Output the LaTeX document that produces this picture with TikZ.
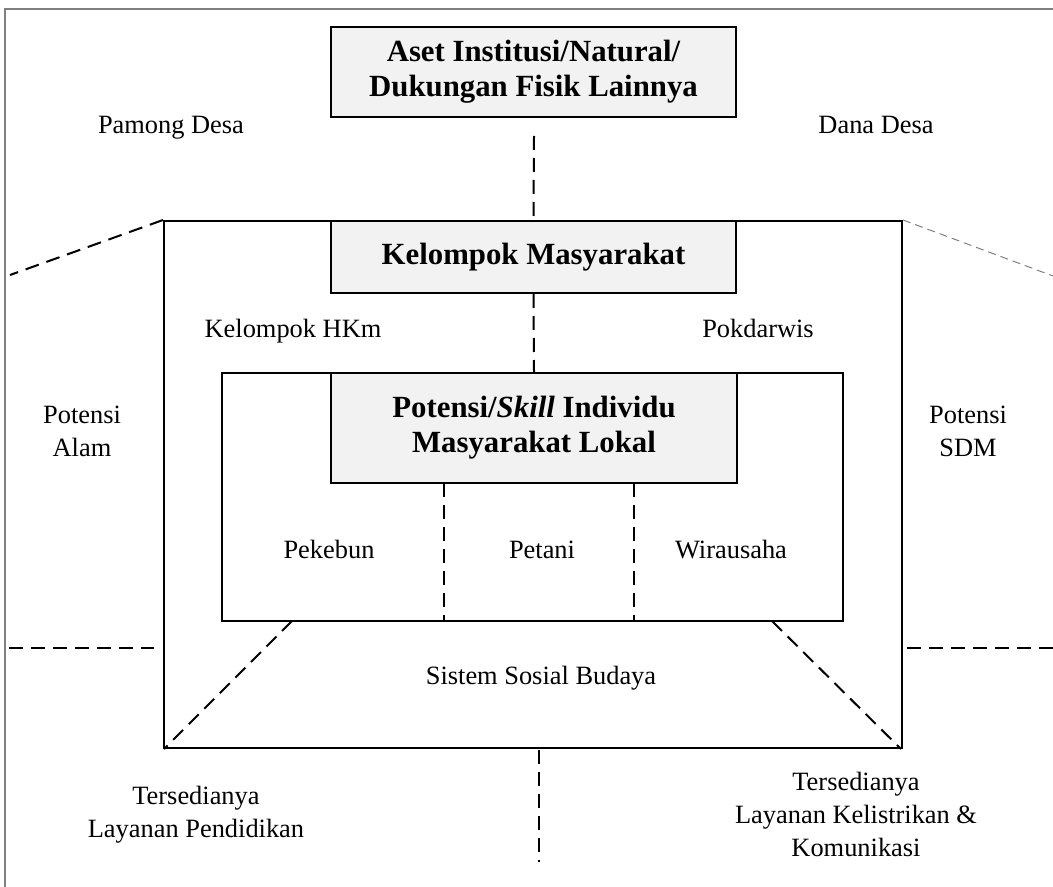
\documentclass[tikz,border=0pt]{standalone}
\usepackage{fontspec}
\setmainfont{Liberation Serif}
\definecolor{boxgray}{HTML}{F2F2F2}
\definecolor{framegray}{HTML}{808080}
\begin{document}
\begin{tikzpicture}[x=0.5pt,y=-0.5pt,
  solidbox/.style={draw=black,line width=1pt,inner sep=0pt,align=center},
  titlebox/.style={solidbox,fill=boxgray,font=\fontsize{15.4}{17.5}\selectfont\bfseries},
  multilbl/.style={inner sep=0pt,align=center,font=\fontsize{13.2}{16.5}\selectfont},
  lbl/.style={multilbl,text height=9.2pt,text depth=2.8pt},
  dashline/.style={line width=1pt,dash pattern=on 7pt off 4pt},
  thindash/.style={line width=0.5pt,draw=framegray,dash pattern=on 4pt off 2.5pt}]
\useasboundingbox (0,0) rectangle (1053,887);
\fill[white] (0,0) rectangle (1053,887);
% frame
\draw[framegray,line width=0.6pt] (5,887) -- (5,9) -- (1053,9);
% boxes
\node[solidbox,minimum width=369pt,minimum height=263.5pt] (outer) at (533,484.5) {};
\node[solidbox,minimum width=310.5pt,minimum height=124pt] (inner) at (532.5,497) {};
\node[titlebox,minimum width=202.5pt,minimum height=45pt] (aset) at (533.5,72) {Aset Institusi/Natural/\\Dukungan Fisik Lainnya};
\node[titlebox,minimum width=202.5pt,minimum height=36pt] (kel) at (533.5,257) {Kelompok Masyarakat};
\node[titlebox,minimum width=203pt,minimum height=55pt] (pot) at (534,428) {Potensi/\textit{Skill} Individu\\Masyarakat Lokal};
% labels
\node[lbl] (pamong) at (171,127) {Pamong Desa};
\node[lbl] (dana) at (876,127) {Dana Desa};
\node[lbl] (hkm) at (293,331) {Kelompok HKm};
\node[lbl] (pokd) at (758,331) {Pokdarwis};
\node[multilbl] (alam) at (82,431) {Potensi\\Alam};
\node[multilbl] (sdm) at (968,431) {Potensi\\SDM};
\node[lbl] (pekebun) at (329,552) {Pekebun};
\node[lbl] (petani) at (542,552) {Petani};
\node[lbl] (wira) at (731,552) {Wirausaha};
\node[lbl] (sosial) at (541,678) {Sistem Sosial Budaya};
\node[multilbl] (didik) at (196,815) {Tersedianya\\Layanan Pendidikan};
\node[multilbl] (listrik) at (856,814) {Tersedianya\\Layanan Kelistrikan \&\\Komunikasi};
% coordinates
\coordinate (vtop) at (534,136);
\coordinate (d1) at (444,483);
\coordinate (d2) at (634,483);
\coordinate (t1) at (292,621);
\coordinate (t2) at (772,621);
\coordinate (lt) at (10,275);
\coordinate (rt) at (1053,276);
\coordinate (hl1) at (9,648);
\coordinate (hl2) at (154,648);
\coordinate (hr1) at (907,648);
\coordinate (hr2) at (1053,648);
\coordinate (vb1) at (539,750);
\coordinate (vb2) at (539,862);
% connectors
\draw[dashline] (vtop) -- (kel.north);
\draw[dashline] (kel.south) -- (pot.north);
\draw[dashline] (d1) -- (inner.south -| d1);
\draw[dashline] (d2) -- (inner.south -| d2);
\draw[dashline] (t1) -- ([xshift=0.5pt]outer.south west);
\draw[dashline] (t2) -- ([xshift=-1pt]outer.south east);
\draw[dashline] (outer.north west) -- (lt);
\draw[thindash] (outer.north east) -- (rt);
\draw[dashline] (hl1) -- (hl2);
\draw[dashline] (hr1) -- (hr2);
\draw[dashline] (vb1) -- (vb2);
\end{tikzpicture}
\end{document}
